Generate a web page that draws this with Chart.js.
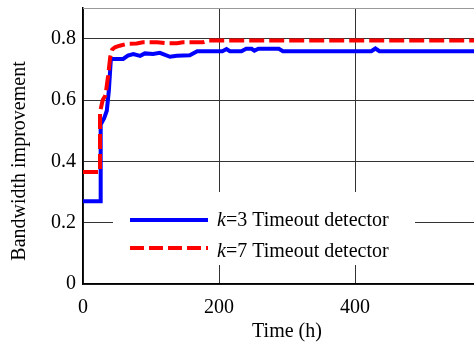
<!DOCTYPE html>
<html>
<head>
<title>Bandwidth improvement</title>
<script src="https://cdn.jsdelivr.net/npm/chart.js"></script>
<style>
body {
  margin: 0;
  padding: 0;
  background-color: #fff;
  overflow: hidden;
}
#container {
  position: relative;
  width: 500px;
  height: 345px;
}
</style>
</head>
<body>
<div id="container"><canvas id="chart"></canvas></div>

<script>
// k=3 timeout detector
const timeK3 = [0, 26, 26, 31, 35, 38, 41, 59, 66, 74, 84, 91, 103, 113, 128, 138, 157, 168, 205, 211, 216, 233, 240, 248, 252, 258, 288, 294, 424, 430, 436, 600];
const valueK3 = [0.27, 0.27, 0.52, 0.54, 0.565, 0.63, 0.734, 0.734, 0.745, 0.75, 0.744, 0.752, 0.75, 0.754, 0.741, 0.744, 0.746, 0.759, 0.759, 0.766, 0.759, 0.759, 0.767, 0.767, 0.761, 0.767, 0.767, 0.759, 0.759, 0.768, 0.759, 0.759];

// k=7 timeout detector
const timeK7 = [0, 25, 25, 29, 33, 37, 40, 43, 47, 54, 64, 79, 88, 109, 124, 138, 147, 176, 184, 600];
const valueK7 = [0.365, 0.365, 0.56, 0.6, 0.615, 0.68, 0.74, 0.765, 0.772, 0.777, 0.783, 0.784, 0.788, 0.788, 0.785, 0.785, 0.788, 0.788, 0.794, 0.794];

const xTicks = [0, 200, 400, 600];
const yTicks = [0, 0.2, 0.4, 0.6, 0.8];
const seriesLabels = ['=3 Timeout detector', '=7 Timeout detector'];

const serif = '"Liberation Serif", "DejaVu Serif", serif';
const fontSize = 20;

function toPoints(xs, ys) {
  return xs.map((x, i) => ({ x: x, y: ys[i] }));
}

// white legend box, axis titles, top border
const decorations = {
  id: 'decorations',
  beforeDatasetsDraw(chart) {
    const ctx = chart.ctx;
    const a = chart.chartArea;
    ctx.save();
    ctx.strokeStyle = '#999';
    ctx.lineWidth = 1;
    ctx.beginPath();
    ctx.moveTo(a.left, a.top + 0.5);
    ctx.lineTo(a.right, a.top + 0.5);
    ctx.stroke();

    ctx.fillStyle = '#fff';
    ctx.fillRect(113, 192, 302, 73);

    const rows = [
      { y: 220, base: 226, color: '#0000ff', dash: [], text: seriesLabels[0] },
      { y: 248, base: 257, color: '#ff0000', dash: [14, 5], text: seriesLabels[1] }
    ];
    rows.forEach(r => {
      ctx.strokeStyle = r.color;
      ctx.lineWidth = 4;
      ctx.setLineDash(r.dash);
      ctx.beginPath();
      ctx.moveTo(130, r.y);
      ctx.lineTo(208, r.y);
      ctx.stroke();
      ctx.setLineDash([]);
      ctx.fillStyle = '#000';
      ctx.textBaseline = 'alphabetic';
      ctx.textAlign = 'left';
      ctx.font = 'italic ' + fontSize + 'px ' + serif;
      ctx.fillText('k', 217, r.base);
      const w = ctx.measureText('k').width;
      ctx.font = fontSize + 'px ' + serif;
      ctx.fillText(r.text, 217 + w, r.base);
    });
    ctx.restore();
  },
  afterDraw(chart) {
    const ctx = chart.ctx;
    const a = chart.chartArea;
    ctx.save();
    ctx.fillStyle = '#000';
    ctx.font = fontSize + 'px ' + serif;
    ctx.textAlign = 'center';
    ctx.textBaseline = 'alphabetic';
    ctx.fillText('Time (h)', (a.left + a.right) / 2, 337);
    ctx.translate(25, 161);
    ctx.rotate(-Math.PI / 2);
    ctx.fillText('Bandwidth improvement', 0, 0);
    ctx.restore();
  }
};

new Chart(document.getElementById('chart'), {
  type: 'line',
  data: {
    datasets: [{
      label: 'k=3 Timeout detector',
      data: toPoints(timeK3, valueK3),
      borderColor: '#0000ff',
      borderWidth: 4,
      pointRadius: 0,
      fill: false,
      order: 1
    }, {
      label: 'k=7 Timeout detector',
      data: toPoints(timeK7, valueK7),
      borderColor: '#ff0000',
      borderWidth: 4,
      borderDash: [15, 5],
      pointRadius: 0,
      fill: false,
      order: 0
    }]
  },
  options: {
    responsive: true,
    maintainAspectRatio: false,
    animation: false,
    layout: { padding: { top: 8, right: 9, left: 0, bottom: 0 } },
    plugins: {
      legend: { display: false },
      tooltip: { enabled: false }
    },
    scales: {
      x: {
        type: 'linear',
        min: 0,
        max: 600,
        afterBuildTicks(scale) { scale.ticks = xTicks.map(v => ({ value: v })); },
        afterFit(scale) {
          scale.height = 61;
          scale.paddingLeft = 0;
          scale.paddingRight = 0;
        },
        ticks: {
          color: '#000',
          font: { family: serif, size: fontSize },
          padding: 12,
          maxRotation: 0,
          callback: v => String(v)
        },
        grid: { color: '#333', lineWidth: 1, drawTicks: false },
        border: { color: '#000', width: 1.5 }
      },
      y: {
        min: 0,
        max: 0.9,
        afterBuildTicks(scale) { scale.ticks = yTicks.map(v => ({ value: v })); },
        afterFit(scale) {
          scale.width = 83;
          scale.paddingTop = 0;
          scale.paddingBottom = 0;
        },
        ticks: {
          color: '#000',
          font: { family: serif, size: fontSize },
          padding: 7,
          callback: v => v === 0 ? '0' : v.toFixed(1)
        },
        grid: { color: '#333', lineWidth: 1, drawTicks: false },
        border: { color: '#000', width: 1.5 }
      }
    }
  },
  plugins: [decorations]
});
</script>
</body>
</html>
